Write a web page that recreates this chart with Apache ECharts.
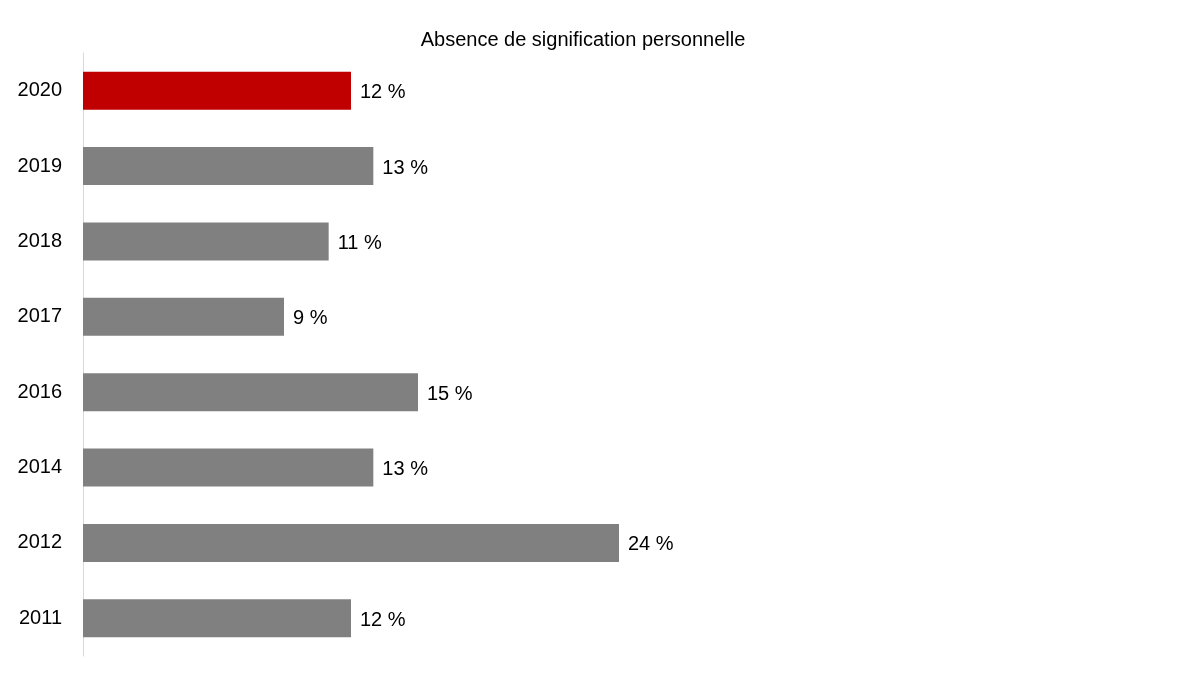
<!DOCTYPE html>
<html>
<head>
<meta charset="utf-8">
<script src="https://cdn.jsdelivr.net/npm/echarts@6/dist/echarts.min.js"></script>
<style>
    html, body { margin: 0; padding: 0; background: #fff; }
    #chart { width: 1200px; height: 675px; }
</style>
</head>
<body>
<div id="chart"></div>
<script>
    // données
    var years = ['2020', '2019', '2018', '2017', '2016', '2014', '2012', '2011'];
    var values = [12, 13, 11, 9, 15, 13, 24, 12];
    var highlightYear = '2020';

    var mychart = echarts.init(document.getElementById('chart'));

    var option = {
        backgroundColor: '#fff',
        textStyle: {
            fontFamily: 'Liberation Sans, Arial, sans-serif'
        },
        title: {
            text: 'Absence de signification personnelle',
            left: 578,
            top: 25,
            textAlign: 'center',
            textStyle: {
                fontSize: 20,
                fontWeight: 'normal',
                color: '#000'
            }
        },
        grid: {
            left: 83,
            top: 53,
            width: 670,
            height: 603
        },
        xAxis: {
            type: 'value',
            min: 0,
            max: 30,
            show: false
        },
        yAxis: {
            type: 'category',
            inverse: true,
            data: years,
            axisLine: {
                show: true,
                lineStyle: { color: '#d9d9d9', width: 1 }
            },
            axisTick: { show: false },
            axisLabel: {
                margin: 21,
                fontSize: 20,
                color: '#000',
                padding: [5, 0, 0, 0]
            }
        },
        series: [{
            type: 'bar',
            barWidth: 38,
            data: values.map(function (v, i) {
                return {
                    value: v,
                    itemStyle: { color: years[i] === highlightYear ? '#c00000' : '#808080' }
                };
            }),
            label: {
                show: true,
                position: 'right',
                distance: 9,
                offset: [0, 2],
                fontSize: 20,
                color: '#000',
                formatter: '{c} %'
            }
        }]
    };
    mychart.setOption(option);
</script>
</body>
</html>
